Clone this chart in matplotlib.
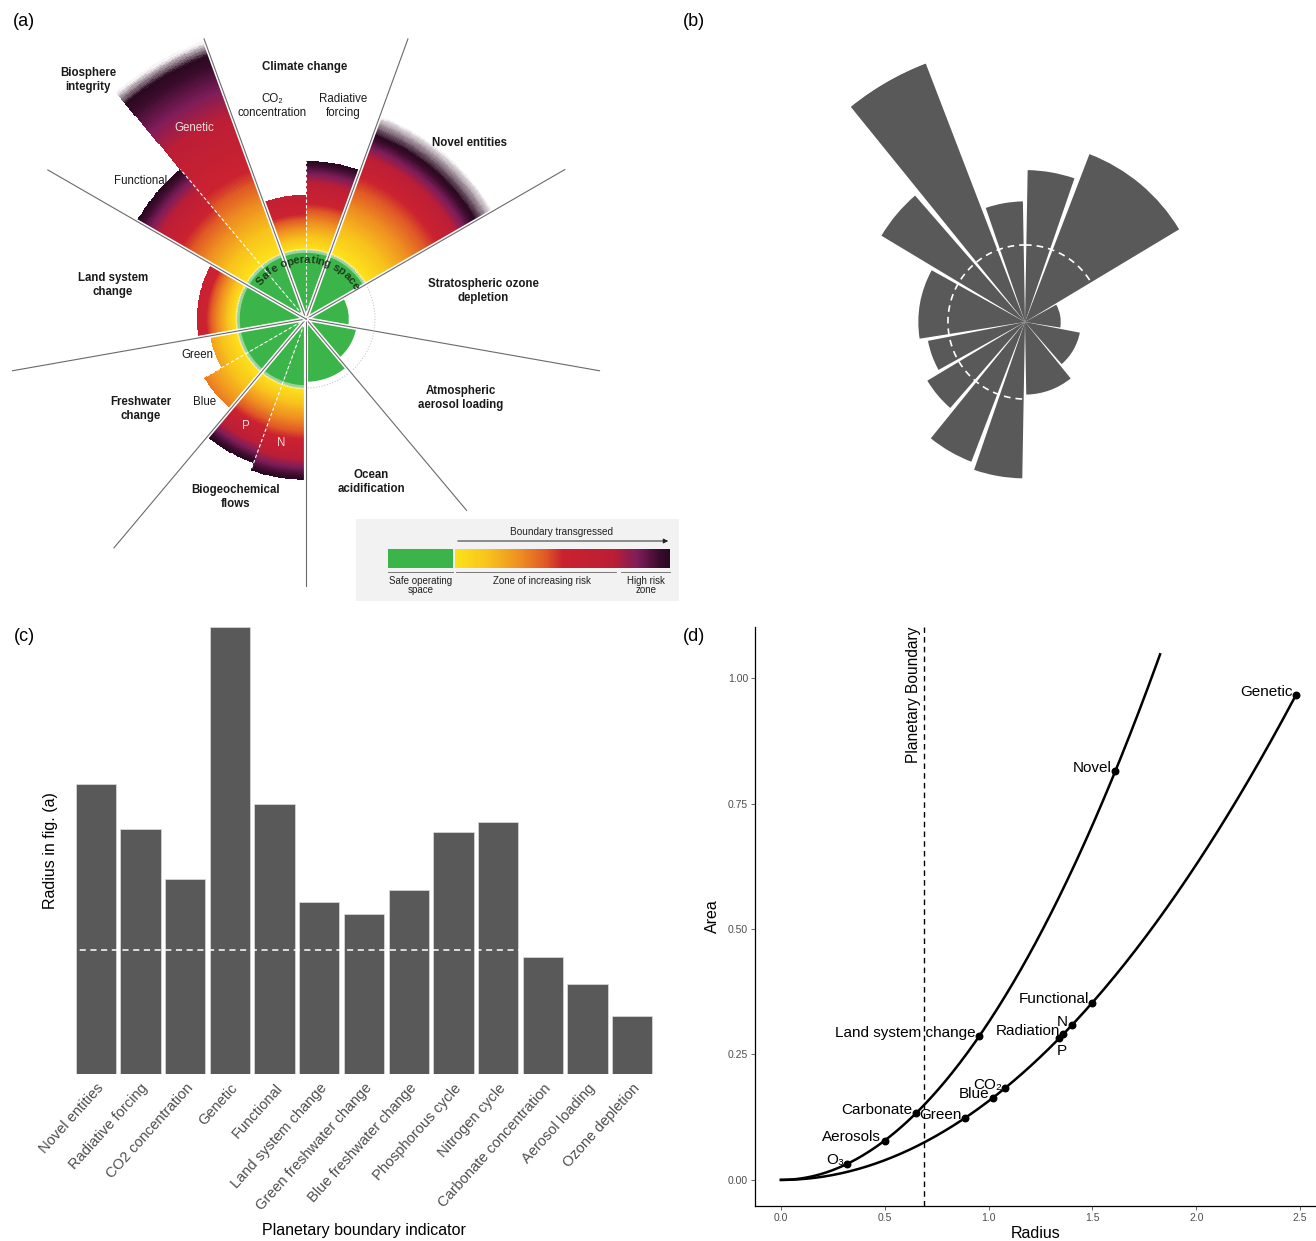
import numpy as np
import matplotlib
matplotlib.use('Agg')
import matplotlib.pyplot as plt
from matplotlib.colors import LinearSegmentedColormap
from matplotlib.patches import Rectangle
from matplotlib.textpath import TextPath
from matplotlib.font_manager import FontProperties

plt.rcParams['font.family'] = ['Liberation Sans', 'DejaVu Sans']
NARROW = ['Liberation Sans Narrow', 'Liberation Sans', 'DejaVu Sans']

W, H = 1316, 1241

# ---------------- data ----------------
# indicators in the order of panel (c)
indicators = ['Novel entities', 'Radiative forcing', 'CO2 concentration', 'Genetic',
              'Functional', 'Land system change', 'Green freshwater change',
              'Blue freshwater change', 'Phosphorous cycle', 'Nitrogen cycle',
              'Carbonate concentration', 'Aerosol loading', 'Ozone depletion']
short_names = ['Novel', 'Radiation', 'CO₂', 'Genetic', 'Functional', 'Land system change',
               'Green', 'Blue', 'P', 'N', 'Carbonate', 'Aerosols', 'O₃']
radius = [1.61, 1.36, 1.08, 2.48, 1.50, 0.955, 0.885, 1.02, 1.34, 1.40, 0.65, 0.50, 0.32]
slot = [40, 20, 20, 20, 20, 40, 20, 20, 20, 20, 40, 40, 40]   # sector of each indicator (deg)
boundary = 0.69

# clockwise order around the wheel in (b), starting at -20 deg
wheel = ['CO2 concentration', 'Radiative forcing', 'Novel entities', 'Ozone depletion',
         'Aerosol loading', 'Carbonate concentration', 'Nitrogen cycle', 'Phosphorous cycle',
         'Blue freshwater change', 'Green freshwater change', 'Land system change',
         'Functional', 'Genetic']

# panel (a): the planetary boundary wheel, radius relative to the boundary (=1)
pb_start = [-20, 0, 20, 60, 100, 140, 180, 200, 220, 240, 260, 300, 320]
pb_span = [20, 20, 40, 40, 40, 40, 20, 20, 20, 20, 40, 20, 20]
pb_radius = [1.80, 2.29, 3.15, 0.62, 0.74, 0.91, 2.33, 2.22, 1.70, 1.41, 1.58, 2.83, 4.29]
pb_red = [1.52, 1.67, 2.20, 1.5, 1.5, 1.5, 1.74, 1.67, 2.00, 1.82, 1.45, 2.10, 2.30]   # colour turns red
pb_dark = [2.45, 2.29, 2.85, 2.0, 2.0, 2.0, 2.33, 2.22, 3.00, 2.60, 2.75, 2.83, 4.08]  # colour turns dark
sep_angle = [-20, 20, 60, 100, 140, 180, 220, 260, 300]
sep_length = [4.32, 4.32, 4.33, 4.32, 3.62, 3.87, 4.33, 4.32, 4.32]
sub_angle = [0, 200, 240, 320]
sub_length = [2.29, 2.33, 1.70, 2.83]

GREEN = '#3BB54A'
BAR = '#595959'

risk_stops = [(0.0, '#FDE31B'), (0.15, '#F8C31C'), (0.30, '#EF8F21'), (0.42, '#E05A25'),
              (0.50, '#CB2230'), (0.74, '#BC1E36'), (0.85, '#7E1D5A'), (0.95, '#3C0C2D'),
              (1.0, '#2A0820')]
risk_cmap = LinearSegmentedColormap.from_list('risk', risk_stops)
fade_cmap = LinearSegmentedColormap.from_list(
    'risk_fade', [(p / 1.1, c) for p, c in risk_stops] + [(1.0, '#FFFFFF')])

fig = plt.figure(figsize=(W / 100, H / 100), dpi=100)


def box(x0, y0, x1, y1):
    return [x0 / W, 1 - y1 / H, (x1 - x0) / W, (y1 - y0) / H]


# ---------------- (a) ----------------
RA, pxa, cxa, cya = 4.4, 69, 306, 319
axA = fig.add_axes(box(cxa - RA * pxa, cya - RA * pxa, cxa + RA * pxa, cya + RA * pxa),
                   projection='polar')
axA.set_theta_zero_location('N')
axA.set_theta_direction(-1)

for t0, span, r, rr_red, rr_dark in zip(pb_start, pb_span, pb_radius, pb_red, pb_dark):
    mid = np.radians(t0 + span / 2)
    axA.bar(mid, min(r, 1), width=np.radians(span), color=GREEN, lw=0)
    if r > 1:
        th = np.radians(np.linspace(t0, t0 + span, 31))
        rr = np.linspace(1, r, 141)
        rm = (rr[:-1] + rr[1:]) / 2
        if r > rr_dark:
            f = np.interp(rm, [1, rr_red, rr_dark, r], [0, 0.5, 1.0, 1.1])
        else:
            f = np.interp(rm, [1, rr_red, rr_dark], [0, 0.5, 1.0])
        T, Rg = np.meshgrid(th, rr)
        C = np.repeat(f[:, None], len(th) - 1, axis=1)
        axA.pcolormesh(T, Rg, C, cmap=fade_cmap, vmin=0, vmax=1.1, shading='flat',
                       antialiased=False, rasterized=True)
        axA.bar(mid, 0.06, bottom=0.96, width=np.radians(span), color='white', alpha=0.45, lw=0)

circ = np.linspace(0, 2 * np.pi, 500)
axA.plot(circ, np.ones_like(circ), color='#c8c8c8', lw=0.8, ls=(0, (1, 1.5)))

for a, L in zip(sub_angle, sub_length):
    axA.plot([np.radians(a)] * 2, [0, L], color='white', lw=0.8, ls=(0, (3, 2)))
for a, L in zip(sep_angle, sep_length):
    axA.plot([np.radians(a)] * 2, [0, L], color='white', lw=3.0, solid_capstyle='butt')
    axA.plot([np.radians(a)] * 2, [0, L], color='#6a6a6a', lw=0.8)

# curved "Safe operating space", letters laid along the arc
txt = 'Safe operating space'
fs_arc, r_arc = 8.2, 0.86
fp = FontProperties(family=NARROW, weight='bold', size=fs_arc)
cw = []
for ch in txt:
    if ch == ' ':
        cw.append(0.3 * fs_arc)
    else:
        cw.append(TextPath((0, 0), ch, size=fs_arc, prop=fp).get_extents().width + 0.08 * fs_arc)
cw = np.array(cw) * 100 / 72          # to pixels
arc = np.degrees(np.cumsum(cw) - cw / 2) / (r_arc * pxa)
angs = arc - arc[-1] / 2 + 1
for ch, ang in zip(txt, angs):
    axA.text(np.radians(ang), r_arc, ch, rotation=-ang, rotation_mode='anchor',
             ha='center', va='center', fontsize=fs_arc, fontweight='bold', color='#1d3b1d',
             family=NARROW)
axA.set_ylim(0, RA)
axA.axis('off')

axT = fig.add_axes(box(0, 0, 680, 610))
axT.axis('off')

labels_a = [('Biosphere\nintegrity', 88, 80, 'bold'), ('Climate change', 305, 67, 'bold'),
            ('CO₂\nconcentration', 272, 106, 'normal'), ('Radiative\nforcing', 343, 106, 'normal'),
            ('Novel entities', 469, 143, 'bold'), ('Functional', 141, 181, 'normal'),
            ('Land system\nchange', 113, 285, 'bold'),
            ('Stratospheric ozone\ndepletion', 483, 291, 'bold'),
            ('Green', 197, 355, 'normal'), ('Blue', 205, 402, 'normal'),
            ('Freshwater\nchange', 141, 409, 'bold'),
            ('Atmospheric\naerosol loading', 461, 398, 'bold'),
            ('Ocean\nacidification', 371, 482, 'bold'),
            ('Biogeochemical\nflows', 236, 497, 'bold')]
for s, x, y, w in labels_a:
    axT.text(x, y, s, ha='center', va='center', fontsize=8.3, fontweight=w,
             family=NARROW, color='#1a1a1a', linespacing=1.2)
for s, x, y in [('Genetic', 194, 128), ('P', 246, 426), ('N', 281, 443)]:
    axT.text(x, y, s, ha='center', va='center', fontsize=8.3, color='#f3dede', family=NARROW)

# legend box
axT.add_patch(Rectangle((356, 519), 323, 82, fc='#F2F2F2', ec='none', zorder=0.5))
axT.add_patch(Rectangle((388, 549), 65, 19, fc=GREEN, ec='none', zorder=2))
grad = np.linspace(0, 1, 256)[None, :]
axT.imshow(grad, cmap=risk_cmap, extent=[455, 670, 568, 549], aspect='auto', zorder=2)
axT.set_xlim(0, 680)
axT.set_ylim(610, 0)
for x0, x1 in [(388, 453), (456, 616), (621, 670)]:
    axT.plot([x0, x1], [571.5, 571.5], color='#666666', lw=0.6)
axT.annotate('', xy=(671, 541), xytext=(455, 541),
             arrowprops=dict(arrowstyle='-|>', lw=0.7, color='#222222', mutation_scale=7))
axT.text(562, 532, 'Boundary transgressed', ha='center', va='center', fontsize=7.2,
         family=NARROW, color='#222222')
for s, x in [('Safe operating\nspace', 421), ('Zone of increasing risk', 542),
             ('High risk\nzone', 646)]:
    axT.text(x, 576, s, ha='center', va='top', fontsize=7, family=NARROW,
             color='#222222', linespacing=0.85)

# ---------------- (b) ----------------
Rb_px = 277
axB = fig.add_axes(box(1025 - Rb_px, 322 - Rb_px, 1025 + Rb_px, 322 + Rb_px), projection='polar')
axB.set_theta_zero_location('N')
axB.set_theta_direction(-1)
start = -20
for name in wheel:
    i = indicators.index(name)
    axB.bar(np.radians(start + slot[i] / 2), radius[i], width=np.radians(slot[i] - 2),
            color=BAR, lw=0)
    start += slot[i]
axB.plot(circ, np.full_like(circ, boundary), color='white', lw=1.2, ls=(0, (4, 3)))
axB.set_ylim(0, max(radius))
axB.axis('off')

# ---------------- (c) ----------------
axC = fig.add_axes(box(69, 627, 659, 1074))
xs = np.arange(1, len(indicators) + 1)
axC.bar(xs, radius, width=0.9, color=BAR, edgecolor='#dcdcdc', linewidth=0.5)
axC.axhline(boundary, color='white', lw=1.1, ls=(0, (4, 3)))
axC.set_xlim(0.4, len(indicators) + 0.6)
axC.set_ylim(0, max(radius))
for sp in axC.spines.values():
    sp.set_visible(False)
axC.set_yticks([])
axC.set_xticks(xs)
axC.set_xticklabels(indicators, rotation=48, ha='right', rotation_mode='anchor',
                    fontsize=10.5, color='#4d4d4d')
axC.tick_params(axis='x', length=0, pad=5)
axC.set_ylabel('Radius in fig. (a)', fontsize=11.5, labelpad=8)
axC.set_xlabel('Planetary boundary indicator', fontsize=11.5, labelpad=7)

# ---------------- (d) ----------------
axD = fig.add_axes(box(755, 627, 1316, 1206))
theta = np.radians(0.9 * np.array(slot))
area = np.array(radius) ** 2 * theta / 2
curve_end = {40: 1.826, 20: max(radius)}
for s in sorted(set(slot), reverse=True):
    rr = np.linspace(0, curve_end[s], 300)
    axD.plot(rr, rr ** 2 * np.radians(0.9 * s) / 2, color='black', lw=1.8)
axD.scatter(radius, area, s=22, color='black', zorder=3)
for nm, r, a in zip(short_names, radius, area):
    if nm == 'P':
        axD.annotate(nm, (r, a), xytext=(2, -4), textcoords='offset points',
                     ha='center', va='top', fontsize=11)
    else:
        axD.annotate(nm, (r, a), xytext=(-2.5, 2.5), textcoords='offset points',
                     ha='right', va='center', fontsize=11)
axD.axvline(boundary, color='black', lw=1, ls=(0, (4, 3)))
axD.set_xlim(-0.125, 2.577)
axD.set_ylim(-0.052, 1.102)
axD.annotate('Planetary Boundary', (boundary, 1.102), xytext=(-2, 0), textcoords='offset points',
             rotation=90, ha='right', va='top', fontsize=11.2)
axD.spines['top'].set_visible(False)
axD.spines['right'].set_visible(False)
for sp in ['left', 'bottom']:
    axD.spines[sp].set_linewidth(0.9)
axD.set_xticks([0, 0.5, 1.0, 1.5, 2.0, 2.5])
axD.set_xticklabels(['0.0', '0.5', '1.0', '1.5', '2.0', '2.5'])
axD.set_yticks([0, 0.25, 0.5, 0.75, 1.0])
axD.set_yticklabels(['0.00', '0.25', '0.50', '0.75', '1.00'])
axD.tick_params(labelsize=7.5, colors='#4d4d4d', length=3, width=0.6, pad=2)
axD.set_xlabel('Radius', fontsize=11.5, labelpad=2)
axD.set_ylabel('Area', fontsize=11.5, labelpad=6)

# panel tags
for s, x, y in [('(a)', 24, 22), ('(b)', 694, 22), ('(c)', 24, 636), ('(d)', 694, 636)]:
    fig.text(x / W, 1 - y / H, s, ha='center', va='center', fontsize=13)

fig.savefig('out.png', dpi=100, facecolor='white')
